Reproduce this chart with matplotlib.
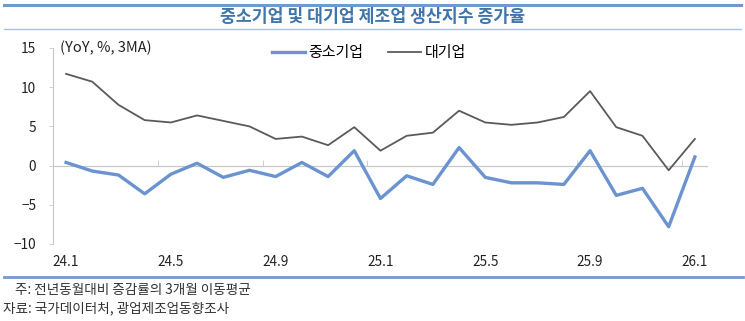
import matplotlib.pyplot as plt
from matplotlib.lines import Line2D

plt.rcParams['font.family'] = ['Noto Sans CJK KR', 'DejaVu Sans']

months = ['24.1', '24.2', '24.3', '24.4', '24.5', '24.6', '24.7', '24.8', '24.9', '24.10',
          '24.11', '24.12', '25.1', '25.2', '25.3', '25.4', '25.5', '25.6', '25.7', '25.8',
          '25.9', '25.10', '25.11', '25.12', '26.1']
sme = [0.4, -0.7, -1.2, -3.6, -1.1, 0.3, -1.5, -0.6, -1.4, 0.4,
       -1.4, 1.9, -4.2, -1.3, -2.4, 2.3, -1.5, -2.2, -2.2, -2.4,
       1.9, -3.8, -2.9, -7.8, 1.1]
large = [11.7, 10.7, 7.75, 5.8, 5.5, 6.4, 5.7, 5.0, 3.4, 3.7,
         2.6, 4.9, 1.9, 3.8, 4.2, 7.0, 5.5, 5.2, 5.5, 6.2,
         9.5, 4.9, 3.8, -0.6, 3.4]
yticks = [-10, -5, 0, 5, 10, 15]

blue = '#6a93d0'
gray = '#5a5a5a'
rule = '#7199d1'

fig = plt.figure(figsize=(7.45, 3.21), dpi=100)
ax = fig.add_axes([0.0711, 0.2399, 0.8792, 0.6106])

x = list(range(len(months)))
ax.plot(x, large, color=gray, lw=1.3, label='대기업', zorder=3)
ax.plot(x, sme, color=blue, lw=2.4, label='중소기업', zorder=4)

ax.set_xlim(-0.5, len(months) - 0.5)
ax.set_ylim(-10, 15)
ax.set_yticks(yticks)
ax.tick_params(axis='y', labelsize=9.8, labelcolor='#222222', color='#c8c8c8',
               length=3, width=0.6, pad=9)

ax.set_xticks(x[::4])
ax.set_xticklabels(months[::4])
ax.tick_params(axis='x', length=0, labelsize=9.8, pad=8, labelcolor='#222222')

for s in ['top', 'right', 'bottom']:
    ax.spines[s].set_visible(False)
ax.spines['left'].set_color('#c8c8c8')
ax.spines['left'].set_linewidth(0.8)

# zero line with boundary ticks
ax.axhline(0, color='#c8c8c8', lw=0.9, zorder=1)
sec = ax.secondary_xaxis(0.4)
sec.set_xticks([i - 0.5 for i in x[4::4]])
sec.tick_params(direction='in', length=4, width=0.6, color='#c8c8c8', labelbottom=False)
sec.set_xticklabels([])
sec.spines['bottom'].set_visible(False)

ax.text(0.01, 1.0, '(YoY, %, 3MA)', transform=ax.transAxes, fontsize=10.5,
        color='#222222', va='center', ha='left')

handles = [Line2D([], [], color=blue, lw=2.4), Line2D([], [], color=gray, lw=1.3)]
fig.legend(handles, ['중소기업', '대기업'], loc='center', bbox_to_anchor=(0.495, 0.835),
           ncol=2, frameon=False, fontsize=10.8, handlelength=2.2, columnspacing=1.6,
           handletextpad=0.25)

# title block
fig.add_artist(Line2D([0.006, 0.995], [0.985, 0.985], color=rule, lw=2.2, transform=fig.transFigure))
fig.add_artist(Line2D([0.006, 0.995], [0.91, 0.91], color='#a9c0e0', lw=1.0, transform=fig.transFigure))
fig.text(0.5, 0.947, '중소기업 및 대기업 제조업 생산지수 증가율', ha='center', va='center',
         fontsize=12.4, fontweight='bold', color='#3f75a8')

fig.add_artist(Line2D([0.006, 0.997], [0.138, 0.138], color=rule, lw=2.0, transform=fig.transFigure))
fig.text(0.02, 0.097, '주: 전년동월대비 증감률의 3개월 이동평균', fontsize=9.8, color='#333333', va='center')
fig.text(0.004, 0.04, '자료: 국가데이터처, 광업제조업동향조사', fontsize=9.8, color='#333333', va='center')

fig.savefig('out.png', dpi=100)
